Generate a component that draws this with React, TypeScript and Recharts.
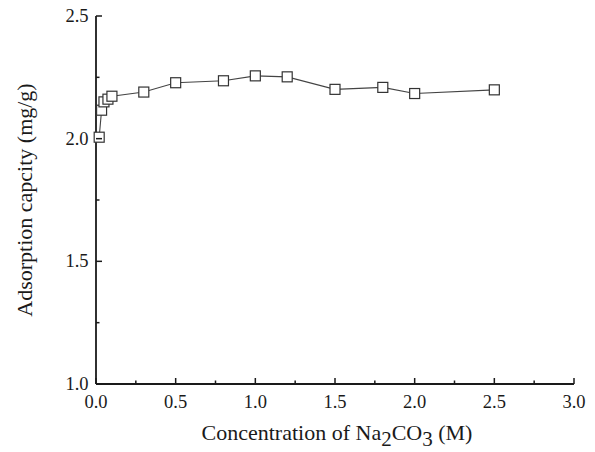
import React from "react";
import { LineChart, Line, XAxis, YAxis } from "recharts";

// Na2CO3 concentration (M) vs adsorption capacity (mg/g)
const concentration = [0.02, 0.035, 0.05, 0.075, 0.1, 0.3, 0.5, 0.8, 1.0, 1.2, 1.5, 1.8, 2.0, 2.5];
const capacity = [2.006, 2.116, 2.15, 2.161, 2.173, 2.19, 2.228, 2.236, 2.256, 2.252, 2.201, 2.209, 2.184, 2.199];

const xTicks = [0, 0.25, 0.5, 0.75, 1.0, 1.25, 1.5, 1.75, 2.0, 2.25, 2.5, 2.75, 3.0];
const yTicks = [1.0, 1.25, 1.5, 1.75, 2.0, 2.25, 2.5];

const data = concentration.map((c, i) => ({ c, q: capacity[i] }));

const FONT = "'Liberation Serif', 'Times New Roman', serif";
const INK = "#1a1a1a";

const isMajor = (v: number) => Math.abs(v * 2 - Math.round(v * 2)) < 1e-6;

const XTick = (props: any) => {
  const { x, y, payload } = props;
  const major = isMajor(payload.value);
  return (
    <g>
      <line x1={x} x2={x} y1={y} y2={y - (major ? 6 : 3.5)} stroke={INK} strokeWidth={1.5} />
      {major && (
        <text x={x} y={y + 24} textAnchor="middle" fontSize={18.5} fontFamily={FONT} fill={INK}>
          {payload.value.toFixed(1)}
        </text>
      )}
    </g>
  );
};

const YTick = (props: any) => {
  const { x, y, payload } = props;
  const major = isMajor(payload.value);
  return (
    <g>
      <line x1={x} x2={x + (major ? 6 : 3.5)} y1={y} y2={y} stroke={INK} strokeWidth={1.5} />
      {major && (
        <text x={x - 7.5} y={y + 6} textAnchor="end" fontSize={18.5} fontFamily={FONT} fill={INK}>
          {payload.value.toFixed(1)}
        </text>
      )}
    </g>
  );
};

const SquareDot = (props: any) => {
  const { cx, cy, index } = props;
  if (cx == null || cy == null) return null;
  return (
    <rect key={`sq-${index}`} x={cx - 5} y={cy - 5} width={10} height={10} fill="#fff" stroke="#333" strokeWidth={1.2} />
  );
};

const XTitle = ({ viewBox }: any) => {
  const cx = viewBox.x + viewBox.width / 2 + 2;
  return (
    <text x={cx} y={440} textAnchor="middle" fontSize={22} fontFamily={FONT} fill={INK}>
      Concentration of Na
      <tspan dy={6} fontSize={21}>2</tspan>
      <tspan dy={-6}>CO</tspan>
      <tspan dy={6} fontSize={21}>3</tspan>
      <tspan dy={-6}> (M)</tspan>
    </text>
  );
};

const YTitle = ({ viewBox }: any) => {
  const cy = viewBox.y + viewBox.height / 2;
  return (
    <text x={32} y={cy} transform={`rotate(-90, 32, ${cy})`} textAnchor="middle" fontSize={22} fontFamily={FONT} fill={INK}>
      Adsorption capcity (mg/g)
    </text>
  );
};

export default function App() {
  return (
    <div style={{ position: "absolute", left: 0, top: 0, width: 595, height: 452, background: "#fff" }}>
      <LineChart width={595} height={452} data={data} margin={{ top: 16, right: 21, left: 36, bottom: 18 }}>
        <XAxis
          type="number"
          dataKey="c"
          domain={[0, 3]}
          ticks={xTicks}
          interval={0}
          tickSize={0}
          tickMargin={0}
          height={50}
          axisLine={{ stroke: INK, strokeWidth: 1.8 }}
          tickLine={false}
          tick={<XTick />}
          label={<XTitle />}
        />
        <YAxis
          type="number"
          domain={[1, 2.5]}
          ticks={yTicks}
          interval={0}
          tickSize={0}
          tickMargin={0}
          width={60}
          axisLine={{ stroke: INK, strokeWidth: 1.8 }}
          tickLine={false}
          tick={<YTick />}
          label={<YTitle />}
        />
        <Line
          type="linear"
          dataKey="q"
          stroke="#444"
          strokeWidth={1.1}
          dot={<SquareDot />}
          activeDot={false}
          isAnimationActive={false}
        />
      </LineChart>
    </div>
  );
}
